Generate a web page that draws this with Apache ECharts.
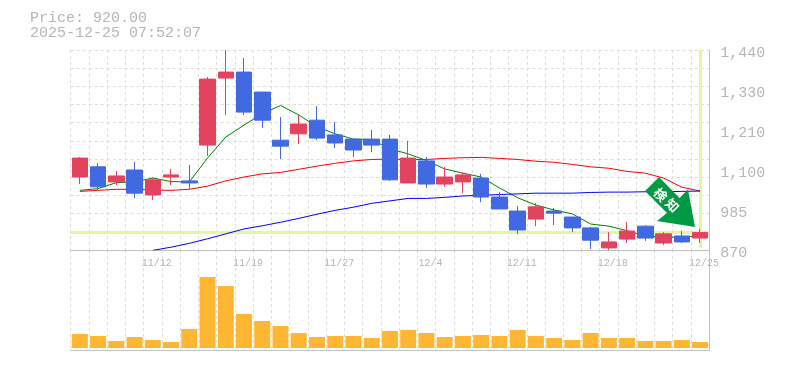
<!DOCTYPE html>
<html>
<head>
<meta charset="utf-8">
<style>
html, body { margin: 0; padding: 0; background: #fff; }
#chart { width: 785px; height: 370px; }
</style>
<script src="https://cdn.jsdelivr.net/npm/echarts@6/dist/echarts.min.js"></script>
</head>
<body>
<div id="chart"></div>
<script>
var dates = ['11/6','11/7','11/10','11/11','11/12','11/13','11/14','11/17','11/18','11/19','11/20','11/21','11/25','11/26','11/27','11/28','12/1','12/2','12/3','12/4','12/5','12/8','12/9','12/10','12/11','12/12','12/15','12/16','12/17','12/18','12/19','12/22','12/23','12/24','12/25'];
var opens = [1078,1107,1064,1098,1027,1078,1067,1169,1360,1377,1320,1183,1201,1240,1198,1186,1186,1186,1061,1124,1058,1064,1075,1021,981,958,981,964,933,876,901,938,890,910,904];
var closes = [1132,1050,1081,1032,1070,1084,1061,1357,1377,1263,1240,1166,1229,1189,1175,1155,1169,1070,1132,1058,1078,1084,1021,987,927,993,975,933,898,893,924,904,916,893,920];
var lows = [1058,1038,1055,1018,1012,1055,1044,1138,1255,1255,1218,1129,1172,1183,1161,1135,1149,1067,1061,1047,1050,1032,1007,987,916,938,941,921,873,870,890,896,884,890,890];
var highs = [1135,1118,1095,1121,1078,1101,1112,1363,1440,1417,1320,1249,1255,1280,1235,1186,1212,1198,1181,1135,1107,1092,1087,1035,995,1004,990,964,936,921,950,941,921,924,930];
var volumes = [14,12,7,11,8,6,19,71,62,34,27,22,15,11,12,12,10,17,18,15,11,12,13,12,18,12,10,8,15,10,10,7,7,8,6];
var ma5 = [1040,1045,1062,1064,1075,1065,1064,1132,1192,1226,1258,1282,1255,1221,1201,1186,1185,1158,1144,1125,1101,1089,1078,1047,1019,998,984,973,944,938,925,910,907,906,912];
var ma25 = [1037,1040,1043,1043,1041,1040,1043,1052,1067,1078,1087,1091,1100,1109,1117,1124,1128,1129,1128,1128,1131,1133,1134,1131,1128,1123,1120,1114,1107,1103,1094,1089,1075,1049,1038];
var ma75 = [null,null,null,null,869,878,889,902,916,930,939,949,960,972,983,992,1003,1010,1017,1017,1020,1024,1026,1028,1030,1032,1032,1032,1034,1035,1035,1036,1036,1037,1038];
var priceTicks = [870,984,1098,1212,1326,1440];
var priceLabels = ['870','985','1,100','1,210','1,330','1,440'];
var dateLabels = ['11/12','11/19','11/27','12/4','12/11','12/18','12/25'];
var lastPrice = 920;
var priceText = 'Price: 920.00';
var timeText = '2025-12-25 07:52:07';
var arrowText = ['検', '知'];

var gray = '#c0c0c0';
var textGray = '#b6b6b6';
var mono = '"Liberation Mono", monospace';
var gridLine = { show: true, lineStyle: { color: '#dddddd', type: [3, 3], width: 1 } };

var candles = dates.map(function (d, i) {
    return [opens[i], closes[i], lows[i], highs[i]];
});

// grid lines every 1/11 of the price range, labels every 1/5
var priceGrid = [];
for (var k = 0; k <= 11; k++) priceGrid.push(870 + k * 570 / 11);

var chart = echarts.init(document.getElementById('chart'), null, { renderer: 'canvas' });
chart.setOption({
    animation: false,
    backgroundColor: '#fff',
    title: {
        text: priceText + '\n' + timeText,
        left: 30,
        top: 11,
        padding: 0,
        textStyle: { color: textGray, fontFamily: mono, fontSize: 15, fontWeight: 'normal', lineHeight: 15 }
    },
    grid: [
        { left: 70.7, right: 75.8, top: 50, height: 200 },
        { left: 70.7, right: 75.8, top: 250, height: 100 }
    ],
    xAxis: [
        {
            type: 'category', gridIndex: 0, data: dates, boundaryGap: true, position: 'bottom',
            axisLine: { show: true, lineStyle: { color: gray, width: 1 } },
            axisTick: { show: false },
            splitLine: Object.assign({ interval: 0 }, gridLine),
            axisLabel: {
                show: true,
                margin: 8,
                interval: 0,
                color: textGray,
                fontFamily: mono,
                fontSize: 10,
                padding: [0, 0, 0, 8],
                hideOverlap: false,
                formatter: function (v) { return dateLabels.indexOf(v) >= 0 ? v : ''; }
            }
        },
        {
            type: 'category', gridIndex: 1, data: dates, boundaryGap: true,
            axisLine: { show: true, onZero: false, lineStyle: { color: gray, width: 1 } },
            axisTick: { show: false },
            axisLabel: { show: false },
            splitLine: Object.assign({ interval: 0 }, gridLine)
        }
    ],
    yAxis: [
        {
            // dotted price grid
            type: 'value', gridIndex: 0, min: 870, max: 1440, position: 'left',
            axisLine: { show: false }, axisLabel: { show: false },
            axisTick: { show: false, customValues: priceGrid },
            splitLine: gridLine
        },
        {
            // right-hand frame and price labels
            type: 'value', gridIndex: 0, min: 870, max: 1440, position: 'right',
            axisLine: { show: true, lineStyle: { color: gray, width: 1 } },
            axisTick: { show: false },
            splitLine: { show: false },
            axisLabel: {
                show: true,
                margin: 11,
                color: textGray,
                fontFamily: mono,
                fontSize: 15,
                verticalAlign: 'top',
                lineHeight: 7,
                customValues: priceTicks,
                formatter: function (v) { return priceLabels[priceTicks.indexOf(v)]; }
            }
        },
        {
            // volume, bars stand a little above the frame
            type: 'value', gridIndex: 1, min: -2, max: 98, position: 'right',
            axisLine: { show: true, lineStyle: { color: gray, width: 1 } },
            axisTick: { show: false }, axisLabel: { show: false }, splitLine: { show: false }
        }
    ],
    series: [
        {
            name: 'last', type: 'line', xAxisIndex: 0, yAxisIndex: 0, data: [], z: 1,
            markLine: {
                silent: true, symbol: 'none', animation: false, z: 1,
                label: { show: false },
                lineStyle: { color: '#e3f5a9', width: 3, type: 'solid' },
                data: [
                    { yAxis: lastPrice },
                    [{ coord: [34, 1440] }, { coord: [34, 876] }]
                ]
            }
        },
        { name: 'ma5', type: 'line', xAxisIndex: 0, yAxisIndex: 0, data: ma5, showSymbol: false, z: 2, lineStyle: { color: '#008000', width: 1 } },
        { name: 'ma25', type: 'line', xAxisIndex: 0, yAxisIndex: 0, data: ma25, showSymbol: false, z: 2, lineStyle: { color: '#ff0000', width: 1 } },
        { name: 'ma75', type: 'line', xAxisIndex: 0, yAxisIndex: 0, data: ma75, showSymbol: false, z: 2, lineStyle: { color: '#0000ff', width: 1 } },
        {
            name: 'price', type: 'candlestick', xAxisIndex: 0, yAxisIndex: 0, data: candles, barWidth: 16, z: 3,
            clip: true,
            itemStyle: { color: '#e2445f', color0: '#4169e1', borderColor: '#e2445f', borderColor0: '#4169e1', borderWidth: 1 }
        },
        {
            name: 'volume', type: 'bar', xAxisIndex: 1, yAxisIndex: 2, data: volumes, barWidth: 16, z: 3,
            itemStyle: { color: '#ffb733' }
        }
    ],
    graphic: [
        {
            type: 'polygon', z: 20,
            shape: { points: [[659, 177], [645, 191], [667, 213], [657, 221], [695, 227], [688, 189.5], [679.5, 198]] },
            style: { fill: '#009944' }
        },
        {
            type: 'text', z: 21, x: 660.7, y: 194.7, rotation: -Math.PI / 4,
            style: { text: arrowText[0], fill: '#fff', font: 'bold 13px "Noto Sans CJK JP"', align: 'center', verticalAlign: 'middle' }
        },
        {
            type: 'text', z: 21, x: 672.3, y: 205.3, rotation: -Math.PI / 4,
            style: { text: arrowText[1], fill: '#fff', font: 'bold 13px "Noto Sans CJK JP"', align: 'center', verticalAlign: 'middle' }
        }
    ]
});
</script>
</body>
</html>
